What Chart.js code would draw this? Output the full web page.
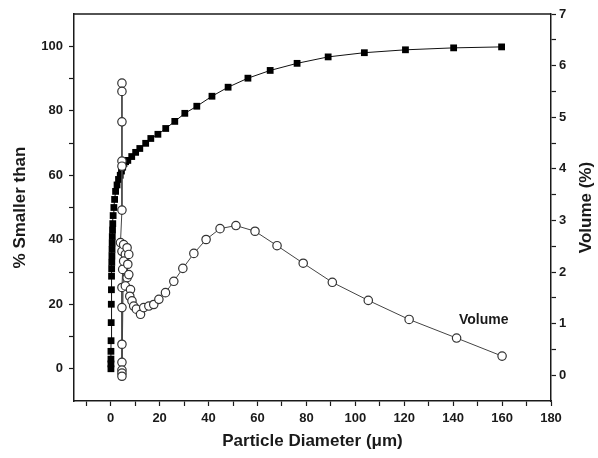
<!DOCTYPE html>
<html>
<head>
<meta charset="utf-8">
<script src="https://cdn.jsdelivr.net/npm/chart.js@4.4.0/dist/chart.umd.min.js"></script>
<style>
body { margin: 0; background: #fff; }
#wrap { width: 598px; height: 458px; }
</style>
</head>
<body>
<div id="wrap"><canvas id="chart"></canvas></div>
<script>
// cumulative curve (left axis, % smaller than)
const cumX = [0.1, 0.1, 0.1, 0.1, 0.15, 0.2, 0.25, 0.3, 0.35, 0.4, 0.45, 0.5, 0.55, 0.6, 0.65, 0.75, 0.85, 1.0, 1.3, 1.6, 2.0, 2.6, 3.2, 3.9, 4.4, 4.9, 5.4, 6.1, 7.0, 8.6, 10.2, 11.9, 14.3, 16.4, 19.3, 22.5, 26.2, 30.3, 35.2, 41.4, 48, 56.1, 65.2, 76.2, 88.9, 103.7, 120.5, 140.2, 159.8]
const cumPct = [0, 1.5, 3, 5.4, 8.7, 14.3, 20, 24.5, 28.7, 31, 33, 35, 37, 39, 41, 43, 45, 47.5, 50, 52.5, 55, 57, 58.7, 60, 61.3, 62.5, 63.6, 64.2, 64.6, 65.8, 67.1, 68.3, 69.9, 71.4, 72.7, 74.5, 76.7, 79.2, 81.4, 84.5, 87.3, 90.1, 92.5, 94.7, 96.7, 98.0, 98.9, 99.5, 99.8]

// volume distribution (right axis, %)
const volX = [4.6, 4.6, 4.6, 4.6, 4.6, 4.6, 4.0, 4.6, 4.9, 4.6, 4.6, 4.6, 4.6, 4.6, 4.6, 4.6, 5.3, 6.0, 5.3, 6.7, 7.4, 7.0, 6.7, 7.4, 6.0, 8.1, 7.8, 8.7, 9.4, 10.5, 12.2, 13.5, 15.6, 17.6, 19.7, 22.4, 25.8, 29.5, 34, 39, 44.7, 51.2, 59, 68, 78.7, 90.6, 105.3, 122, 141.4, 160]
const volPct = [5.66, 5.5, 4.91, 4.15, 4.05, 3.2, 2.57, 2.4, 2.05, 1.7, 1.31, 0.6, 0.25, 0.1, 0.04, -0.02, 2.53, 2.34, 2.21, 2.47, 2.34, 2.15, 1.89, 1.95, 1.73, 1.66, 1.53, 1.44, 1.34, 1.28, 1.18, 1.31, 1.34, 1.37, 1.47, 1.6, 1.82, 2.07, 2.36, 2.63, 2.84, 2.9, 2.79, 2.51, 2.17, 1.8, 1.45, 1.08, 0.72, 0.37]

const xTicks = [-10, 0, 10, 20, 30, 40, 50, 60, 70, 80, 90, 100, 110, 120, 130, 140, 150, 160, 170, 180]
const xLabels = [0, 20, 40, 60, 80, 100, 120, 140, 160, 180]
const leftTicks = [0, 10, 20, 30, 40, 50, 60, 70, 80, 90, 100]
const leftLabels = [0, 20, 40, 60, 80, 100]
const rightTicks = [0, 0.5, 1, 1.5, 2, 2.5, 3, 3.5, 4, 4.5, 5, 5.5, 6, 6.5, 7]
const rightLabels = [0, 1, 2, 3, 4, 5, 6, 7]

const FONT = '"Liberation Sans", Arial, sans-serif'
const ink = '#1a1a1a'

const toPoints = (xs, ys) => xs.map((x, i) => ({ x: x, y: ys[i] }))

const axisGrid = {
    display: true,
    drawOnChartArea: false,
    drawTicks: true,
    tickLength: 5,
    tickWidth: 1.2,
    tickColor: ink,
}

const extras = {
    id: 'extras',
    afterDraw(chart) {
        const ctx = chart.ctx
        const a = chart.chartArea
        ctx.save()
        // top frame line
        ctx.strokeStyle = ink
        ctx.lineWidth = 1.5
        ctx.beginPath()
        ctx.moveTo(a.left, a.top)
        ctx.lineTo(a.right, a.top)
        ctx.stroke()
        // right axis title, reading bottom to top
        ctx.fillStyle = ink
        ctx.font = 'bold 17px ' + FONT
        ctx.textAlign = 'center'
        ctx.textBaseline = 'middle'
        ctx.translate(586, (a.top + a.bottom) / 2)
        ctx.rotate(-Math.PI / 2)
        ctx.fillText('Volume (%)', 0, 0)
        ctx.restore()
        // series label
        ctx.save()
        ctx.fillStyle = ink
        ctx.font = 'bold 14px ' + FONT
        ctx.textAlign = 'center'
        ctx.textBaseline = 'middle'
        const px = chart.scales.x.getPixelForValue(152.5)
        const py = chart.scales.y2.getPixelForValue(1.06)
        ctx.fillText('Volume', px, py)
        ctx.restore()
    }
}

new Chart(document.getElementById('chart'), {
    type: 'scatter',
    data: {
        datasets: [
            {
                label: 'Volume',
                data: toPoints(volX, volPct),
                yAxisID: 'y2',
                showLine: true,
                borderColor: '#444',
                borderWidth: 1,
                pointStyle: 'circle',
                pointRadius: 4.2,
                pointBorderWidth: 1.2,
                pointBorderColor: '#333',
                pointBackgroundColor: '#fff',
                order: 1,
            },
            {
                label: 'Cumulative',
                data: toPoints(cumX, cumPct),
                yAxisID: 'y',
                showLine: true,
                borderColor: '#111',
                borderWidth: 1,
                pointStyle: 'rect',
                pointRadius: 4.8,
                pointBorderWidth: 0,
                pointBackgroundColor: '#000',
                order: 2,
            },
        ],
    },
    options: {
        responsive: true,
        maintainAspectRatio: false,
        animation: false,
        layout: { padding: { top: 14, left: 0, right: 0, bottom: 0 } },
        plugins: {
            legend: { display: false },
            tooltip: { enabled: false },
        },
        scales: {
            x: {
                type: 'linear',
                min: -15,
                max: 180,
                afterBuildTicks: (s) => { s.ticks = xTicks.map(v => ({ value: v })) },
                afterFit: (s) => { s.height = 57 },
                grid: axisGrid,
                border: { color: ink, width: 1.5 },
                ticks: {
                    autoSkip: false,
                    maxRotation: 0,
                    padding: 5,
                    color: ink,
                    font: { family: FONT, size: 13, weight: 'bold' },
                    callback: (v) => xLabels.includes(v) ? v : '',
                },
                title: {
                    display: true,
                    text: 'Particle Diameter (\u03bcm)',
                    color: ink,
                    font: { family: FONT, size: 17, weight: 'bold' },
                    padding: { top: 0, bottom: 6 },
                },
            },
            y: {
                type: 'linear',
                position: 'left',
                min: -10,
                max: 110,
                afterBuildTicks: (s) => { s.ticks = leftTicks.map(v => ({ value: v })) },
                afterFit: (s) => { s.width = 74 },
                grid: axisGrid,
                border: { color: ink, width: 1.5 },
                ticks: {
                    autoSkip: false,
                    padding: 6,
                    color: ink,
                    font: { family: FONT, size: 13, weight: 'bold' },
                    callback: (v) => leftLabels.includes(v) ? v : '',
                },
                title: {
                    display: true,
                    text: '% Smaller than',
                    color: ink,
                    font: { family: FONT, size: 17, weight: 'bold' },
                    padding: { top: 10, bottom: 0 },
                },
            },
            y2: {
                type: 'linear',
                position: 'right',
                min: -0.5,
                max: 7,
                afterBuildTicks: (s) => { s.ticks = rightTicks.map(v => ({ value: v })) },
                afterFit: (s) => { s.width = 47 },
                grid: axisGrid,
                border: { color: ink, width: 1.5 },
                ticks: {
                    autoSkip: false,
                    padding: 3,
                    color: ink,
                    font: { family: FONT, size: 13, weight: 'bold' },
                    callback: (v) => rightLabels.includes(v) ? v : '',
                },
            },
        },
    },
    plugins: [extras],
})
</script>
</body>
</html>
